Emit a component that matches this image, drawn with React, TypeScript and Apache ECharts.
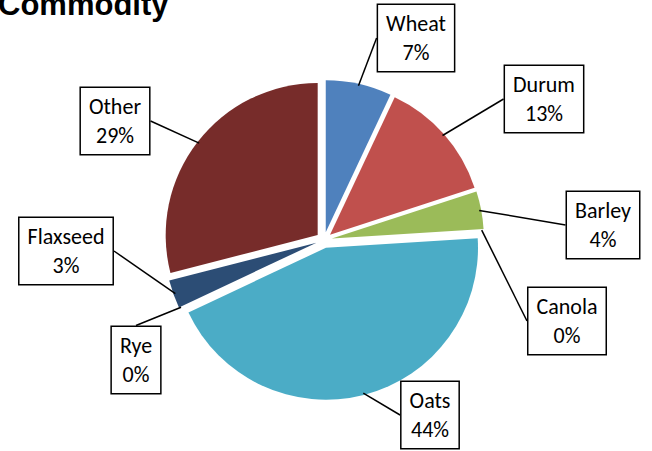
import React, { useEffect, useRef } from "react";
import * as echarts from "echarts";

const categories = ["Wheat", "Durum", "Barley", "Canola", "Oats", "Rye", "Flaxseed", "Other"];
const shares = [7, 13, 4, 0, 44, 0, 3, 29];
const sliceColors = ["#4F81BD", "#C0504D", "#9BBB59", "#8064A2", "#4BACC6", "#F79646", "#2C4D75", "#772C2A"];
const labelCentres: [number, number][] = [
  [416, 38],
  [544, 99],
  [603, 225],
  [567, 321],
  [430, 415],
  [136, 360],
  [66, 251],
  [115, 121],
];

export default function App() {
  const ref = useRef<HTMLDivElement>(null);
  useEffect(() => {
    document.body.style.margin = "0";
    const chart = echarts.init(ref.current!, null, { renderer: "svg" });
    const common = {
      type: "pie",
      center: [324, 240],
      startAngle: 90,
      clockwise: true,
      avoidLabelOverlap: false,
      emphasis: { disabled: true },
    };
    chart.setOption({
      animation: false,
      title: {
        text: "Commodity",
        left: -2,
        top: -11,
        padding: 0,
        textStyle: { fontFamily: "'Liberation Sans', Arial, sans-serif", fontSize: 31, fontWeight: "bold", color: "#000" },
      },
      series: [
        {
          ...common,
          radius: 152,
          selectedMode: "multiple",
          selectedOffset: 8,
          label: { show: false },
          labelLine: { show: false },
          data: categories.map((name, i) => ({
            name,
            value: shares[i],
            selected: true,
            itemStyle: { color: sliceColors[i] },
          })),
        },
        {
          ...common,
          radius: 158,
          silent: true,
          selectedMode: false,
          z: 3,
          data: categories.map((name, i) => ({
            name,
            value: shares[i],
            itemStyle: { color: "rgba(0,0,0,0)" },
          })),
          label: {
            show: true,
            position: "outside",
            formatter: (p: any) => `${p.name}\n${Math.round(p.percent)}%`,
            fontFamily: "Carlito, Lato, sans-serif",
            fontSize: 22,
            lineHeight: 29,
            color: "#000",
            backgroundColor: "#fff",
            borderColor: "#000",
            borderWidth: 1.5,
            padding: [4, 8],
            align: "center",
          },
          labelLine: {
            show: true,
            length: 0,
            length2: 0,
            lineStyle: { color: "#000", width: 1.5 },
          },
          labelLayout: (params: any) => ({
            x: labelCentres[params.dataIndex][0],
            y: labelCentres[params.dataIndex][1],
            align: "center",
            verticalAlign: "middle",
          }),
        },
      ],
    });
    return () => chart.dispose();
  }, []);
  return <div ref={ref} style={{ width: 652, height: 451 }} />;
}
